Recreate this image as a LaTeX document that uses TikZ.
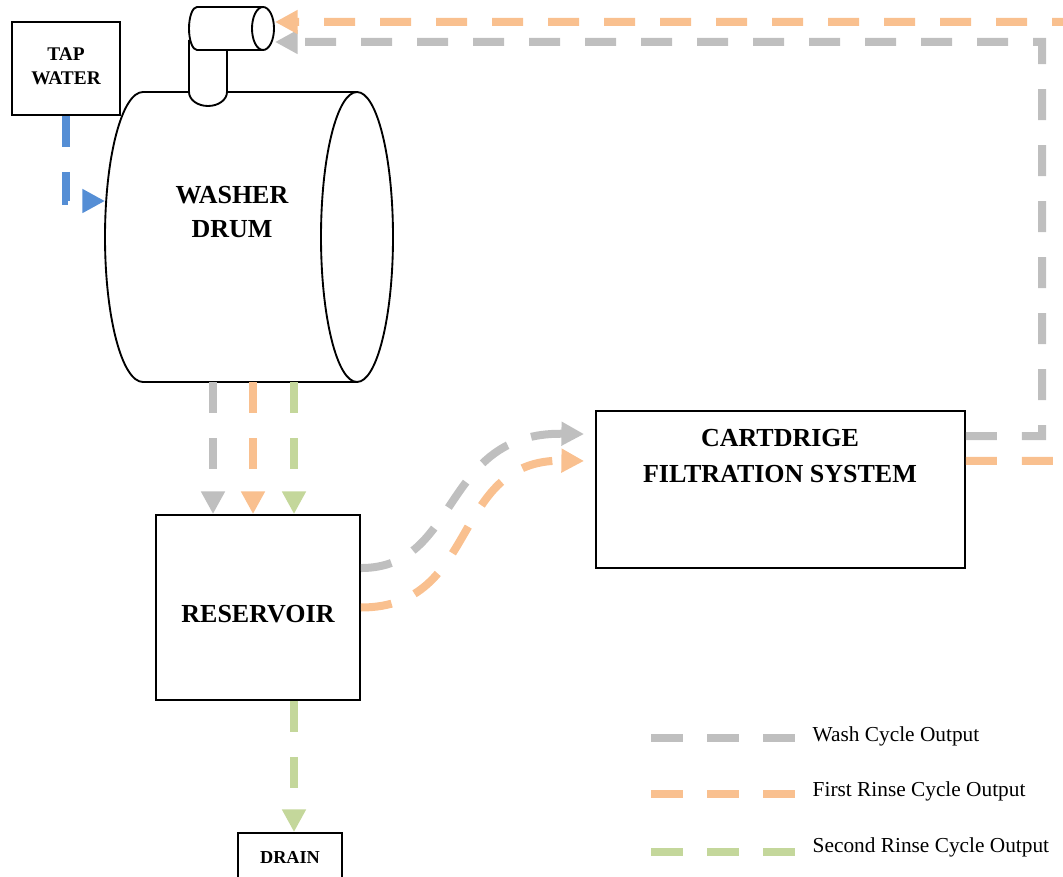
\documentclass[tikz,border=0pt]{standalone}
\usepackage{fontspec}
\setmainfont{Liberation Serif}
\usetikzlibrary{arrows.meta}
\definecolor{washc}{HTML}{BFBFBF}
\definecolor{rinse1c}{HTML}{F9C08F}
\definecolor{rinse2c}{HTML}{C4D79B}
\definecolor{tapc}{HTML}{558ED5}
\tikzset{
  outline/.style={draw=black, line width=1.4pt, fill=white},
  flow/.style={line width=6pt, dash pattern=on 23.25pt off 18.75pt},
  tipped/.style={-{Triangle[length=17pt,width=17pt]}},
  washflow/.style={flow, draw=washc, tipped},
  rinseoneflow/.style={flow, draw=rinse1c, tipped},
  rinsetwoflow/.style={flow, draw=rinse2c, tipped},
  tapflow/.style={flow, draw=tapc, tipped},
  boxlabel/.style={font=\bfseries\fontsize{19.5}{27}\selectfont, align=center},
  smalllabel/.style={font=\bfseries\fontsize{14.5}{18}\selectfont, align=center},
  legendtext/.style={font=\fontsize{16}{19}\selectfont, anchor=west},
}
\begin{document}
\begin{tikzpicture}[x=0.75pt,y=-0.75pt]
\path[use as bounding box] (0,0) rectangle (1063,877);
\clip (0,0) rectangle (1063,877);

% washer drum
\draw[outline] (357,92) -- (143,92) arc[start angle=270, end angle=90, x radius=38, y radius=145] -- (357,382);
\draw[outline] (357,237) ellipse [x radius=36, y radius=145];
% pipe
\draw[outline] (189,40) -- (189,92) arc[start angle=180, end angle=0, x radius=19, y radius=14] -- (227,40);
\draw[outline] (263,7) -- (197,7) arc[start angle=270, end angle=90, x radius=8, y radius=21.5] -- (263,50);
\draw[outline] (263,28.5) ellipse [x radius=11, y radius=21.5];
\node[boxlabel, font=\bfseries\fontsize{19.5}{25.5}\selectfont] (drum) at (232,212) {WASHER\\DRUM};

% boxes
\node[outline, minimum width=81pt, minimum height=69.75pt] (tap) at (66,68.5) {};
\node[smalllabel] (taptext) at (66,66) {TAP\\WATER};
\node[outline, minimum width=153pt, minimum height=138.75pt] (res) at (258,607.5) {};
\node[boxlabel] (restext) at (258,614) {RESERVOIR};
\node[outline, minimum width=276.75pt, minimum height=117.75pt] (cart) at (780.5,489.5) {};
\node[boxlabel] (carttext) at (780,456) {CARTDRIGE\\FILTRATION SYSTEM};
\node[outline, minimum width=78pt, minimum height=45pt] (drain) at (290,863) {};
\node[font=\bfseries\fontsize{13.7}{16}\selectfont] (draintext) at (290,857) {DRAIN};

% connection points
\coordinate (drumin) at (105,201);
\coordinate (dG) at (213,382);
\coordinate (dO) at (253,382);
\coordinate (dGr) at (294,382);
\coordinate (pipeO) at (275,22);
\coordinate (pipeG) at (275,42);
\coordinate (gR1) at (1042,436);
\coordinate (gR2) at (1042,42);
\coordinate (oR1) at (1085,461);
\coordinate (oR2) at (1085,22);

% tap water
\draw[tapflow] (tap.south) |- (drumin);
% drum to reservoir
\draw[washflow] (dG) -- (dG |- res.north);
\draw[rinseoneflow] (dO) -- (dO |- res.north);
\draw[rinsetwoflow] (dGr) -- (dGr |- res.north);
% reservoir to cartridge
\draw[washflow] ([yshift=29.6pt]res.east) .. controls +(75pt,0) and +(-108pt,1.5pt) .. ([xshift=-8.25pt,yshift=41.6pt]cart.west);
\draw[rinseoneflow] (res.east) .. controls +(90pt,0) and +(-101pt,1.5pt) .. ([xshift=-8.25pt,yshift=21.4pt]cart.west);
% cartridge back to drum
\draw[washflow] ([yshift=40.1pt]cart.east) -- (gR1) -- (gR2) -- (pipeG);
\draw[rinseoneflow] ([yshift=21.4pt]cart.east) -- (oR1) -- (oR2) -- (pipeO);
% reservoir to drain
\draw[rinsetwoflow] (res.south -| dGr) -- (drain.north -| dGr);

% legend
\coordinate (l1a) at (651,738); \coordinate (l1b) at (795,738);
\coordinate (l2a) at (651,794); \coordinate (l2b) at (795,794);
\coordinate (l3a) at (651,852); \coordinate (l3b) at (795,852);
\draw[flow, draw=washc, dash pattern=on 24pt off 18pt] (l1a) -- (l1b);
\draw[flow, draw=rinse1c, dash pattern=on 24pt off 18pt] (l2a) -- (l2b);
\draw[flow, draw=rinse2c, dash pattern=on 24pt off 18pt] (l3a) -- (l3b);
\node[legendtext] (lt1) at (808,736) {Wash Cycle Output};
\node[legendtext] (lt2) at (808,791) {First Rinse Cycle Output};
\node[legendtext] (lt3) at (808,847) {Second Rinse Cycle Output};
\end{tikzpicture}
\end{document}
